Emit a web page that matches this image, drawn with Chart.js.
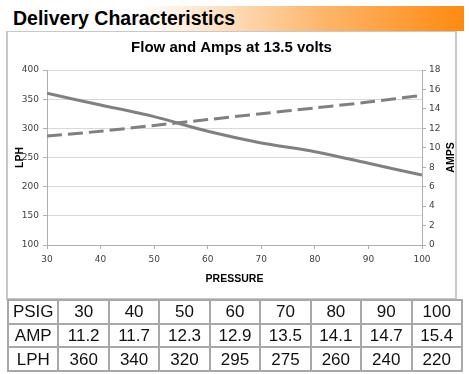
<!DOCTYPE html>
<html>
<head>
<meta charset="utf-8">
<script src="https://cdn.jsdelivr.net/npm/chart.js@4"></script>
<style>
  body { margin: 0; background: #fff; width: 469px; height: 374px; position: relative; overflow: hidden; }
  #header {
    position: absolute; left: 0; top: 6px; width: 464px; height: 25px;
    background: linear-gradient(to right, #ffffff 0%, #ffffff 30%, #fde3c6 46%, #fdb56a 70%, #ff8a10 100%);
  }
  #header span {
    position: absolute; left: 13px; top: 1px;
    font: bold 19.5px "Liberation Sans", Arial, sans-serif; color: #000;
  }
  #box {
    position: absolute; left: 6px; top: 31px; width: 451px; height: 269px;
    box-sizing: border-box; border: 2px solid #c8c8c8; border-top: 1px solid #c8c8c8; pointer-events: none;
  }
  #wrap { position: absolute; left: 6px; top: 31px; width: 451px; height: 268px; }
  table {
    position: absolute; left: 7px; top: 299px; width: 456px; height: 73px;
    border-collapse: collapse; table-layout: fixed;
    font: 17px "Liberation Sans", Arial, sans-serif; color: #111;
  }
  td { border: 2px solid #a8a8a8; text-align: center; padding: 0; line-height: 19px; }
</style>
</head>
<body>
<div id="header"><span>Delivery Characteristics</span></div>
<div id="wrap"><canvas id="flowCanvas"></canvas></div>
<div id="box"></div>
<table id="dataTable"></table>
<script>
const psig = [30, 40, 50, 60, 70, 80, 90, 100];
const amps = [11.2, 11.7, 12.3, 12.9, 13.5, 14.1, 14.7, 15.4];
const lph = [360, 340, 320, 295, 275, 260, 240, 220];

// table under the chart
const table = document.getElementById("dataTable");
[["PSIG", psig], ["AMP", amps], ["LPH", lph]].forEach(([name, vals]) => {
    const tr = document.createElement("tr");
    const head = document.createElement("td");
    head.textContent = name;
    tr.appendChild(head);
    vals.forEach(v => {
        const td = document.createElement("td");
        td.textContent = name === "AMP" ? v.toFixed(1) : v;
        tr.appendChild(td);
    });
    table.appendChild(tr);
});

const tickFont = { family: "DejaVu Sans", size: 9 };
const titleFont = { family: "Liberation Sans", size: 10.5, weight: "bold" };

// right axis title reads bottom-to-top like the left one
const ampsTitle = {
    id: "ampsTitle",
    afterDraw(chart) {
        const ctx = chart.ctx;
        const area = chart.chartArea;
        ctx.save();
        ctx.translate(445, (area.top + area.bottom) / 2);
        ctx.rotate(-Math.PI / 2);
        ctx.font = "bold 10.5px 'Liberation Sans'";
        ctx.fillStyle = "#000";
        ctx.textAlign = "center";
        ctx.textBaseline = "middle";
        ctx.fillText("AMPS", 0, 0);
        ctx.restore();
    }
};

const flowCanvas = document.getElementById("flowCanvas");

const flowChart = new Chart(flowCanvas, {
    type: "line",
    data: {
        datasets: [{
            label: "LPH",
            data: psig.map((p, i) => ({ x: p, y: lph[i] })),
            yAxisID: "y",
            borderColor: "#808080",
            borderWidth: 3,
            pointRadius: 0,
            tension: 0.3
        }, {
            label: "AMPS",
            data: psig.map((p, i) => ({ x: p, y: amps[i] })),
            yAxisID: "y1",
            borderColor: "#808080",
            borderWidth: 3,
            borderDash: [15, 6],
            pointRadius: 0,
            tension: 0.3
        }]
    },
    options: {
        responsive: true,
        maintainAspectRatio: false,
        animation: false,
        devicePixelRatio: 1,
        layout: { padding: 0 },
        plugins: {
            legend: { display: false },
            tooltip: { enabled: false },
            title: {
                display: true,
                text: "Flow and Amps at 13.5 volts",
                color: "#000",
                font: { family: "Liberation Sans", size: 15, weight: "bold" },
                padding: { top: 8, bottom: 13 }
            }
        },
        scales: {
            x: {
                type: "linear",
                min: 30,
                max: 100,
                ticks: { stepSize: 10, font: tickFont, color: "#404040", padding: 5 },
                grid: { drawOnChartArea: false, tickLength: 4, tickColor: "#b0b0b0" },
                border: { color: "#b0b0b0" },
                title: { display: true, text: "PRESSURE", color: "#000", font: titleFont, padding: { top: 2, bottom: 14 } },
                afterFit: s => { s.height = 54; }
            },
            y: {
                position: "left",
                min: 100,
                max: 400,
                ticks: { stepSize: 50, font: tickFont, color: "#404040", padding: 4 },
                grid: { color: "#d9d9d9", tickLength: 4, tickColor: "#b0b0b0" },
                border: { color: "#b0b0b0" },
                title: { display: true, text: "LPH", color: "#000", font: titleFont, padding: { top: 8, bottom: 0 } },
                afterFit: s => { s.width = 41; }
            },
            y1: {
                position: "right",
                min: 0,
                max: 18,
                ticks: { stepSize: 2, font: tickFont, color: "#404040", padding: 3 },
                grid: { drawOnChartArea: false, tickLength: 4, tickColor: "#b0b0b0" },
                border: { color: "#b0b0b0" },
                afterFit: s => { s.width = 35; }
            }
        }
    },
    plugins: [ampsTitle]
});
</script>
</body>
</html>
